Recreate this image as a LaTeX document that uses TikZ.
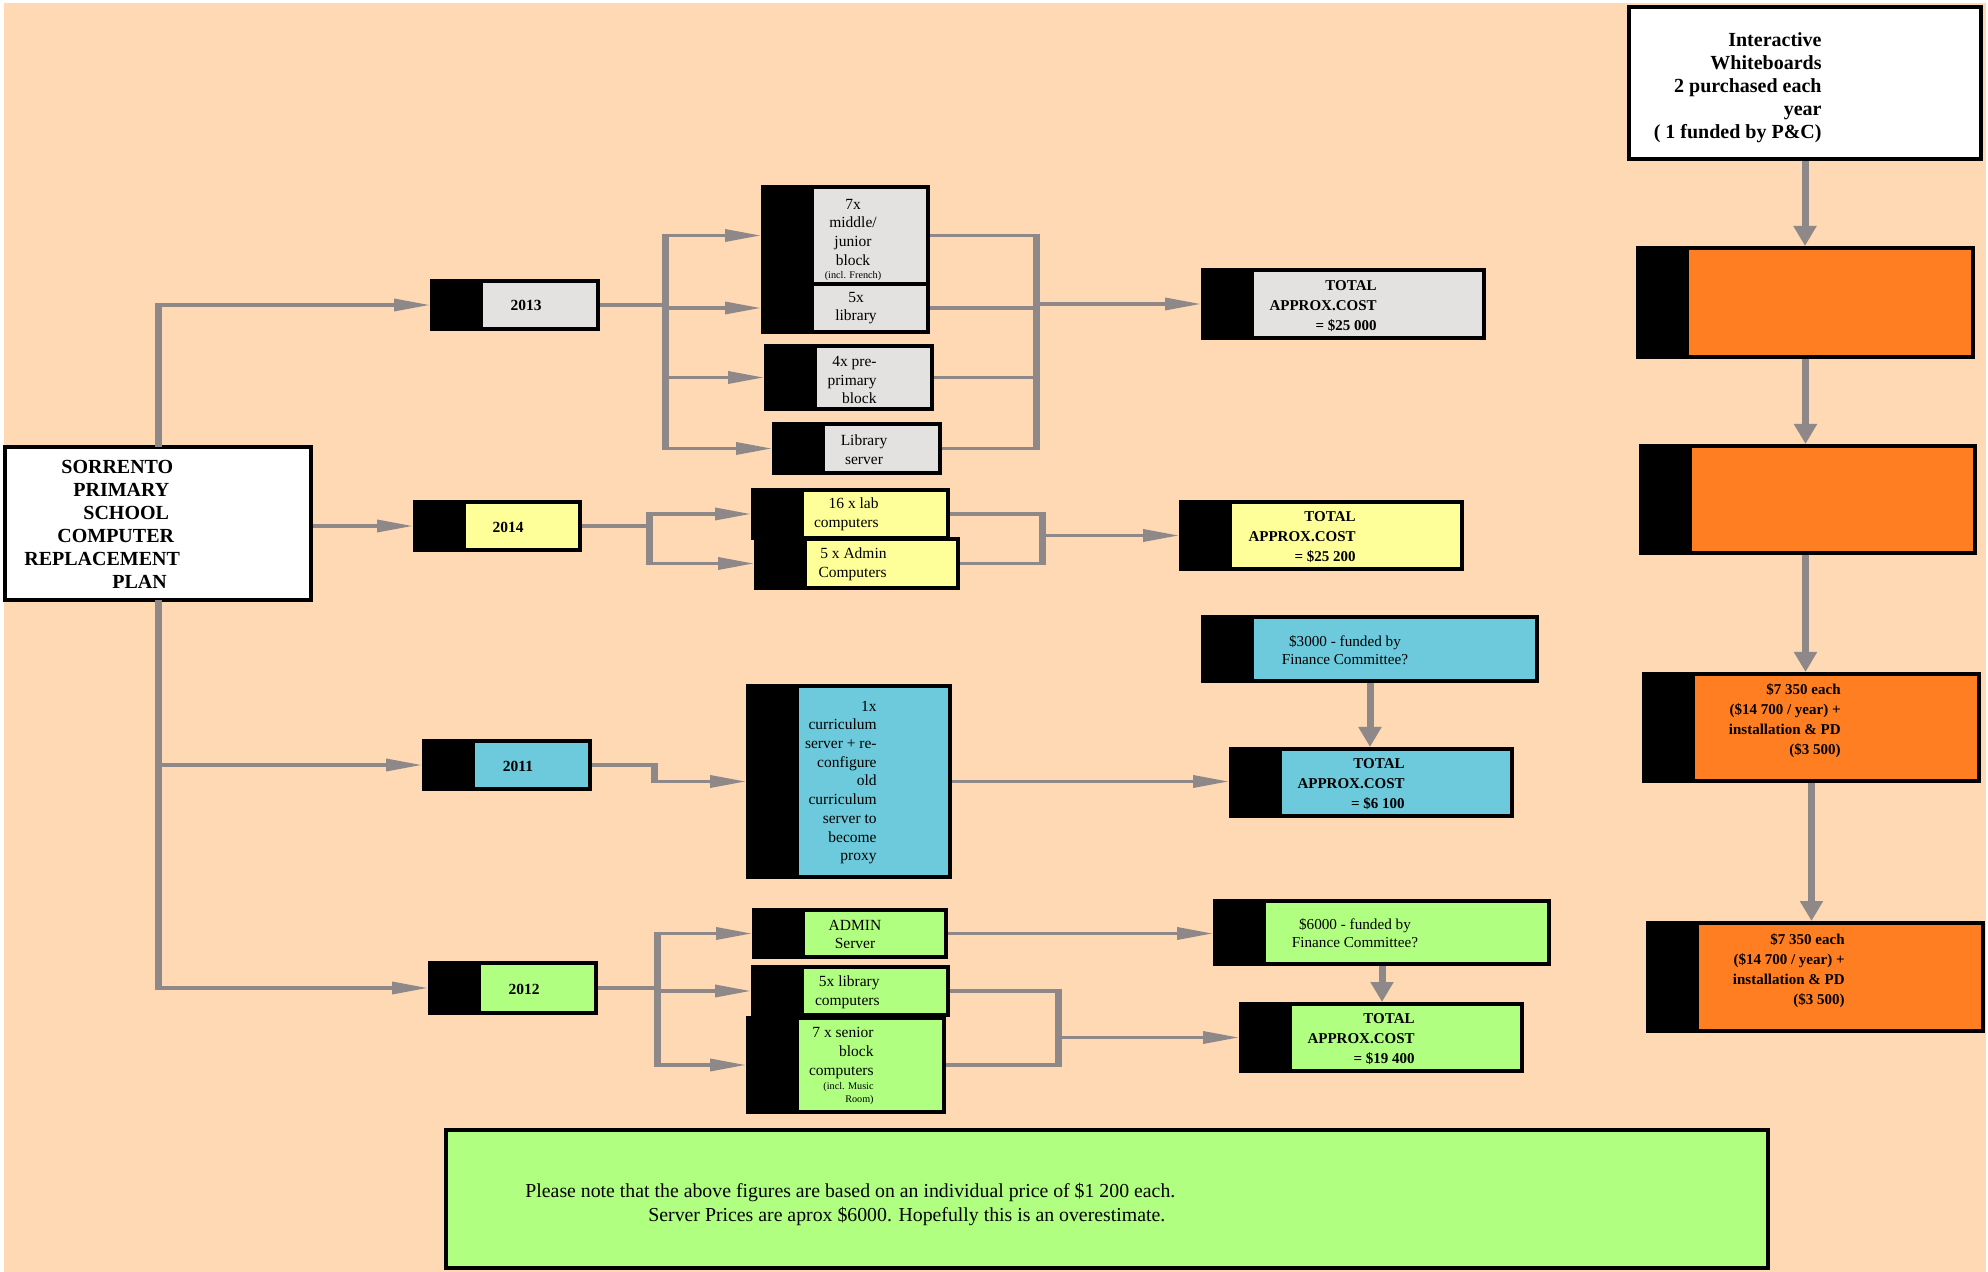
\documentclass[tikz,border=0pt]{standalone}
\usepackage{fontspec}
\setmainfont{Liberation Serif}
\usetikzlibrary{fit,arrows.meta}

\definecolor{peach}{RGB}{255,217,179}
\definecolor{boxgrey}{RGB}{228,226,224}
\definecolor{pyellow}{RGB}{255,255,153}
\definecolor{pcyan}{RGB}{108,202,220}
\definecolor{pgreen}{RGB}{176,255,128}
\definecolor{porange}{RGB}{255,126,34}
\definecolor{linegrey}{RGB}{143,136,137}

\newcommand{\tinyfnt}{\fontsize{5.1}{6.2}\selectfont}

\tikzset{
  plain/.style={draw=black, line width=2pt, inner sep=0pt},
  card/.style={plain, path picture={\fill[black] (path picture bounding box.south west) rectangle ([xshift=25.5pt]path picture bounding box.north west);}},
  hline/.style={draw=linegrey, line width=1.75pt},
  vline/.style={draw=linegrey, line width=3.5pt, shorten <=-0.9pt, shorten >=-0.9pt},
  vconn/.style={draw=linegrey, line width=3.5pt},
  harr/.style={-{Triangle[length=18pt,width=6pt]}},
  varr/.style={-{Triangle[length=10pt,width=11pt]}},
  bigtxt/.style={inner sep=0pt, font=\fontsize{10}{11.5}\selectfont\bfseries},
  smalltxt/.style={inner sep=0pt, font=\fontsize{7.75}{9.35}\selectfont},
  yeartxt/.style={inner sep=0pt, font=\fontsize{7.75}{9.35}\selectfont\bfseries},
  tottxt/.style={inner sep=0pt, align=right, anchor=east, font=\fontsize{7.5}{10}\selectfont\bfseries},
  fundtxt/.style={inner sep=0pt, align=center, font=\fontsize{7.6}{9}\selectfont},
  wbtxt/.style={inner sep=0pt, align=right, anchor=east, font=\fontsize{7.5}{10}\selectfont\bfseries},
  notetxt/.style={inner sep=0pt, font=\fontsize{9.9}{12}\selectfont}
}

\begin{document}
\begin{tikzpicture}[x=0.5pt,y=0.5pt,yscale=-1]
%set diagram size 1988 x 1272
\useasboundingbox (0,0) rectangle (1988,1272);
%Shape: Background
\fill[peach] (4,3) rectangle (1986,1272);

%Shape: Rectangle [plan]
\node[plain,fill=white,fit={(5,447) (311,600)}] (sorrento) {};
%Shape: Rectangle [whiteboards]
\node[plain,fill=white,fit={(1629,7) (1981,159)}] (wboard) {};
%Shape: Rectangle [years]
\node[card,fill=boxgrey,fit={(432,281) (598,329)}] (y2013) {};
\node[card,fill=pyellow,fit={(415,502) (580,550)}] (y2014) {};
\node[card,fill=pcyan,fit={(424,741) (590,789)}] (y2011) {};
\node[card,fill=pgreen,fit={(430,963) (596,1013)}] (y2012) {};
%Shape: Rectangle [2013 items]
\node[card,fill=boxgrey,fit={(763,187) (928,284)}] (mid7) {};
\node[card,fill=boxgrey,fit={(763,284) (928,332)}] (lib5) {};
\node[card,fill=boxgrey,fit={(766,346) (932,409)}] (pre4) {};
\node[card,fill=boxgrey,fit={(774,424) (940,473)}] (libsrv) {};
\node[card,fill=boxgrey,fit={(1203,270) (1484,338)}] (tot13) {};
%Shape: Rectangle [2014 items]
\node[card,fill=pyellow,fit={(753,490) (948,538)}] (lab16) {};
\node[card,fill=pyellow,fit={(756,539) (958,588)}] (admin5) {};
\node[card,fill=pyellow,fit={(1181,502) (1462,569)}] (tot14) {};
%Shape: Rectangle [2011 items]
\node[card,fill=pcyan,fit={(1203,617) (1537,681)}] (fund11) {};
\node[card,fill=pcyan,fit={(748,686) (950,877)}] (curr) {};
\node[card,fill=pcyan,fit={(1231,749) (1512,816)}] (tot11) {};
%Shape: Rectangle [2012 items]
\node[card,fill=pgreen,fit={(754,910) (946,957)}] (adminsrv) {};
\node[card,fill=pgreen,fit={(753,967) (948,1015)}] (lib5c) {};
\node[card,fill=pgreen,fit={(748,1018) (944,1112)}] (senior7) {};
\node[card,fill=pgreen,fit={(1215,901) (1549,964)}] (fund12) {};
\node[card,fill=pgreen,fit={(1241,1004) (1522,1071)}] (tot12) {};
%Shape: Rectangle [whiteboard costs]
\node[card,fill=porange,fit={(1638,248) (1973,357)}] (wb1) {};
\node[card,fill=porange,fit={(1641,446) (1975,553)}] (wb2) {};
\node[card,fill=porange,fit={(1644,674) (1979,781)}] (wb3) {};
\node[card,fill=porange,fit={(1648,923) (1983,1031)}] (wb4) {};
%Shape: Rectangle [note]
\node[plain,fill=pgreen,fit={(446,1130) (1768,1268)}] (note) {};

\coordinate (bus13) at (665,0);
\coordinate (mrg13) at (1036,0);
\coordinate (bus14) at (649,0);
\coordinate (mrg14) at (1042,0);
\coordinate (k11) at (654,765);
\coordinate (bus12) at (657,0);
\coordinate (mrg12) at (1058,0);

%Straight Lines [plan to years]
\draw[vline] (sorrento.north) -- (sorrento.north |- y2013.west);
\draw[hline,harr] (sorrento.north |- y2013.west) -- (y2013.west);
\draw[hline,harr] (sorrento.east |- y2014.west) -- (y2014.west);
\draw[vline] (sorrento.south) -- (sorrento.south |- y2012.west);
\foreach \t in {y2011,y2012}
  \draw[hline,harr] (sorrento.south |- \t.west) -- (\t.west);

%Straight Lines [2013]
\draw[hline] (y2013.east) -- (bus13 |- y2013.east);
\draw[vline] (bus13 |- mid7.west) -- (bus13 |- libsrv.west);
\foreach \t in {mid7,lib5,pre4,libsrv}{
  \draw[hline,harr] (bus13 |- \t.west) -- (\t.west);
  \draw[hline] (\t.east) -- (mrg13 |- \t.east);
}
\draw[vline] (mrg13 |- mid7.east) -- (mrg13 |- libsrv.east);
\draw[hline,harr] (mrg13 |- tot13.west) -- (tot13.west);

%Straight Lines [2014]
\draw[hline] (y2014.east) -- (bus14 |- y2014.east);
\draw[vline] (bus14 |- lab16.west) -- (bus14 |- admin5.west);
\foreach \t in {lab16,admin5}{
  \draw[hline,harr] (bus14 |- \t.west) -- (\t.west);
  \draw[hline] (\t.east) -- (mrg14 |- \t.east);
}
\draw[vline] (mrg14 |- lab16.east) -- (mrg14 |- admin5.east);
\draw[hline,harr] (mrg14 |- tot14.west) -- (tot14.west);

%Straight Lines [2011]
\draw[hline] (y2011.east) -- (k11);
\draw[vline] (k11) -- (k11 |- curr.west);
\draw[hline,harr] (k11 |- curr.west) -- (curr.west);
\draw[hline,harr] (curr.east) -- (curr.east -| tot11.west);
\draw[vconn,varr] (fund11.south) -- (fund11.south |- tot11.north);

%Straight Lines [2012]
\draw[hline] (y2012.east) -- (bus12 |- y2012.east);
\draw[vline] (bus12 |- adminsrv.west) -- (bus12 |- senior7.west);
\foreach \t in {adminsrv,lib5c,senior7}
  \draw[hline,harr] (bus12 |- \t.west) -- (\t.west);
\draw[hline,harr] (adminsrv.east) -- (adminsrv.east -| fund12.west);
\draw[vconn,varr] (fund12.south) -- (fund12.south |- tot12.north);
\foreach \t in {lib5c,senior7}
  \draw[hline] (\t.east) -- (mrg12 |- \t.east);
\draw[vline] (mrg12 |- lib5c.east) -- (mrg12 |- senior7.east);
\draw[hline,harr] (mrg12 |- tot12.west) -- (tot12.west);

%Straight Lines [whiteboards]
\draw[vconn,varr] (wboard.south) -- (wboard.south |- wb1.north);
\draw[vconn,varr] (wb1.south) -- (wb1.south |- wb2.north);
\draw[vconn,varr] (wb2.south -| wb1.south) -- (wb1.south |- wb3.north);
\draw[vconn,varr] (wb3.south) -- (wb3.south |- wb4.north);

% Text Node
\draw (24,524) node [bigtxt,anchor=west,align=left] (tplan) {\hspace*{18.5pt}SORRENTO\\\hspace*{24.5pt}PRIMARY\\\hspace*{29.5pt}SCHOOL\\\hspace*{16.5pt}COMPUTER\\REPLACEMENT\\\hspace*{44pt}PLAN};
% Text Node
\draw (1822,88) node [bigtxt,anchor=east,align=right] (twboard) {Interactive\\Whiteboards\\2 purchased each\\year\\( 1 funded by P\&C)};
% Text Node
\draw (526,305) node [yeartxt] (t2013) {2013};
\draw (508,527) node [yeartxt] (t2014) {2014};
\draw (518,766) node [yeartxt] (t2011) {2011};
\draw (524,989) node [yeartxt] (t2012) {2012};
% Text Node
\draw (853,240) node [smalltxt,align=center] (tmid7) {7x\\middle/\\junior\\block\\[-2.5pt]{\tinyfnt (incl. French)}};
\draw (856,308) node [smalltxt,align=center] (tlib5) {5x\\library};
\draw (877,380) node [smalltxt,align=right,anchor=east] (tpre4) {4x pre-\\primary\\block};
\draw (864,450) node [smalltxt,align=center] (tlibsrv) {Library\\server};
\draw (879,514.5) node [smalltxt,align=right,anchor=east] (tlab16) {16 x lab\\computers};
\draw (887,564.5) node [smalltxt,align=right,anchor=east] (tadmin5) {5 x Admin\\Computers};
\draw (877,782.5) node [smalltxt,align=right,anchor=east] (tcurr) {1x\\curriculum\\server + re-\\configure\\old\\curriculum\\server to\\become\\proxy};
\draw (855,934.5) node [smalltxt,align=center] (tadminsrv) {ADMIN\\Server};
\draw (880,992.5) node [smalltxt,align=right,anchor=east] (tlib5c) {5x library\\computers};
\draw (874,1066) node [smalltxt,align=right,anchor=east] (tsenior7) {7 x senior\\block\\computers\\[-2pt]{\tinyfnt (incl. Music}\\[-3pt]{\tinyfnt Room)}};
% Text Node
\draw (1377,306) node [tottxt] (ttot13) {TOTAL\\APPROX.COST\\= \$25 000};
\draw (1356,537) node [tottxt] (ttot14) {TOTAL\\APPROX.COST\\= \$25 200};
\draw (1405,784) node [tottxt] (ttot11) {TOTAL\\APPROX.COST\\= \$6 100};
\draw (1415,1039) node [tottxt] (ttot12) {TOTAL\\APPROX.COST\\= \$19 400};
% Text Node
\draw (1345,650) node [fundtxt] (tfund11) {\$3000 - funded by\\Finance Committee?};
\draw (1355,933) node [fundtxt] (tfund12) {\$6000 - funded by\\Finance Committee?};
% Text Node
\draw (1841,721) node [wbtxt] (twb3) {\$7 350 each\\(\$14 700 / year) +\\installation \& PD\\(\$3 500)};
\draw (1845,971) node [wbtxt] (twb4) {\$7 350 each\\(\$14 700 / year) +\\installation \& PD\\(\$3 500)};
% Text Node
\draw (525,1204) node [notetxt,anchor=west,align=left] (tnote) {Please note that the above figures are based on an individual price of \$1 200 each.\\\hspace*{61.5pt}Server Prices are aprox \$6000. Hopefully this is an overestimate.};

\end{tikzpicture}
\end{document}
